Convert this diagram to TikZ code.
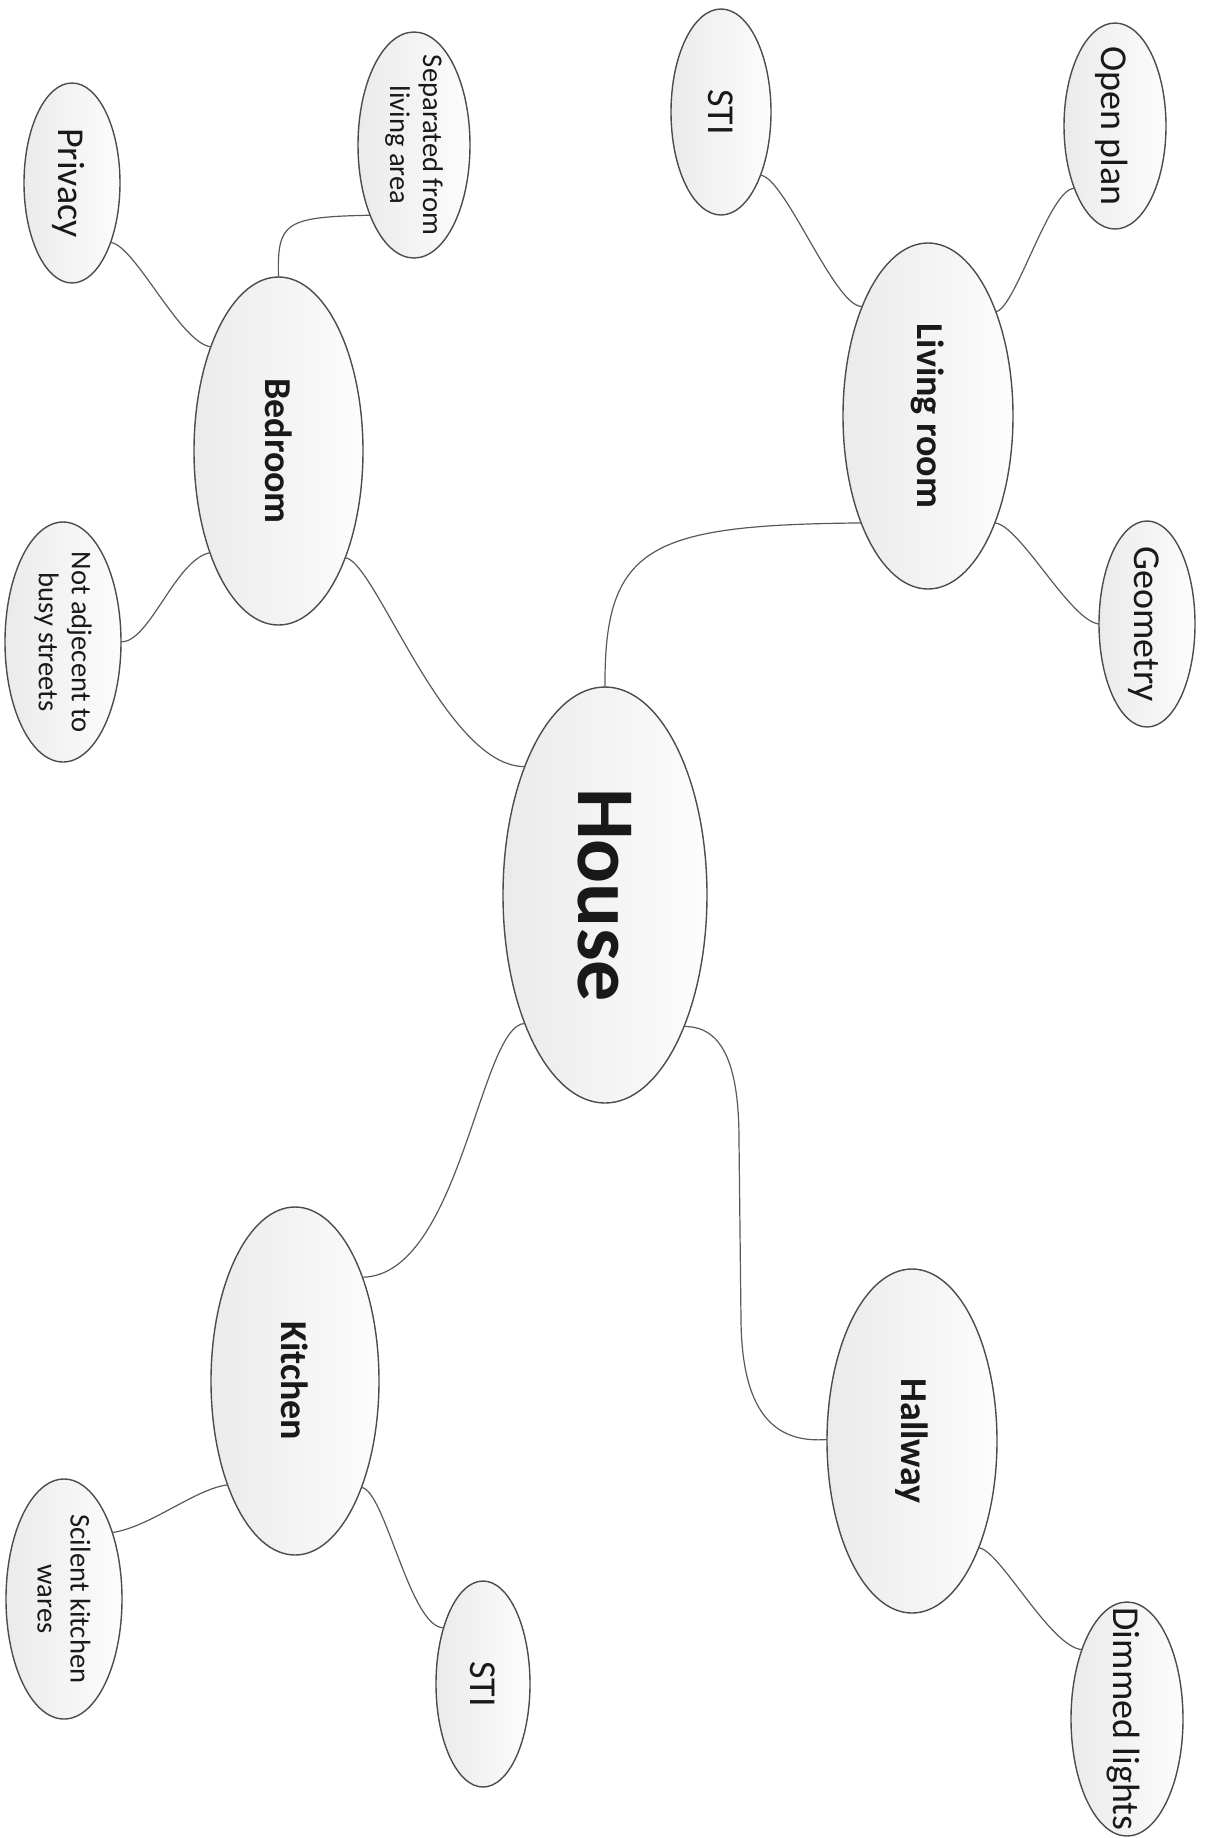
\documentclass[tikz,border=0pt]{standalone}
\usepackage{fontspec}
\setmainfont{Carlito}
\usetikzlibrary{shapes.geometric}
\begin{document}
\begin{tikzpicture}[x=0.5pt,y=-0.5pt,
  bub/.style={ellipse, draw=black!70, line width=0.7pt, left color=black!8, right color=black!1, inner sep=0pt, outer sep=0pt},
  conn/.style={draw=black!65, line width=0.6pt},
  txt/.style={rotate=-90, inner sep=0pt, text=black!90},
  bigtxt/.style={txt, font=\bfseries\fontsize{41}{49}\selectfont},
  roomtxt/.style={txt, font=\bfseries\fontsize{19}{23}\selectfont},
  leaftxt/.style={txt, font=\fontsize{19}{23}\selectfont, text depth=0pt},
  leaftwo/.style={txt, font=\fontsize{14.3}{16.5}\selectfont, align=center}
]
\useasboundingbox (0,0) rectangle (1208,1838);

% ellipses
\node[bub, minimum width=102pt, minimum height=208pt] (house) at (605,895) {};
\node[bub, minimum width=84.5pt, minimum height=174pt] (bedroom) at (278.5,451) {};
\node[bub, minimum width=85pt, minimum height=173pt] (living) at (928,416) {};
\node[bub, minimum width=84pt, minimum height=174pt] (kitchen) at (295,1381) {};
\node[bub, minimum width=85pt, minimum height=172pt] (hallway) at (912,1441) {};
\node[bub, minimum width=48pt, minimum height=100pt] (privacy) at (72,183) {};
\node[bub, minimum width=56pt, minimum height=113pt] (separated) at (414,145) {};
\node[bub, minimum width=58pt, minimum height=120pt] (notadj) at (63,642) {};
\node[bub, minimum width=50pt, minimum height=103pt] (stitop) at (721,112) {};
\node[bub, minimum width=51pt, minimum height=103pt] (open) at (1115,126) {};
\node[bub, minimum width=48pt, minimum height=103pt] (geometry) at (1147,624) {};
\node[bub, minimum width=58pt, minimum height=120pt] (scilent) at (64,1599) {};
\node[bub, minimum width=47pt, minimum height=103pt] (stibot) at (483,1684) {};
\node[bub, minimum width=56pt, minimum height=117pt] (dimmed) at (1127,1719) {};

% texts
\node[bigtxt] (houseT) at (house) {House};
\node[roomtxt] (bedroomT) at (bedroom) {Bedroom};
\node[roomtxt] (livingT) at (living) {Living room};
\node[roomtxt] (kitchenT) at (kitchen) {Kitchen};
\node[roomtxt] (hallwayT) at (hallway) {Hallway};
\node[leaftxt] (privacyT) at (privacy) {Privacy};
\node[leaftwo] (separatedT) at (separated) {Separated from\\living area};
\node[leaftwo] (notadjT) at (notadj) {Not adjecent to\\busy streets};
\node[leaftxt] (stitopT) at (stitop) {STI};
\node[leaftxt] (openT) at (open) {Open plan};
\node[leaftxt] (geometryT) at (geometry) {Geometry};
\node[leaftwo] (scilentT) at (scilent) {Scilent kitchen\\wares};
\node[leaftxt] (stibotT) at (stibot) {STI};
\node[leaftxt] (dimmedT) at (dimmed) {Dimmed lights};

% connectors
\draw[conn] (house.90) .. controls (604,545) and (650,525) .. (living.238);
\draw[conn] (bedroom.302.1) .. controls (375,560) and (445,767) .. (house.122.6);
\draw[conn] (house.238.4) .. controls (480,1025) and (460,1276) .. (kitchen.57.1);
\draw[conn] (house.301.4) .. controls (725,1026) and (739,1070) .. (739,1140)
   -- (741,1320) .. controls (742,1420) and (780,1443) .. (hallway.179);
\draw[conn] (privacy.303.5) .. controls (135,245) and (180,343) .. (bedroom.123.5);
\draw[conn] (bedroom.90) .. controls (277,222) and (285,217) .. (separated.238.6);
\draw[conn] (notadj.0) .. controls (150,642) and (175,560) .. (bedroom.236.7);
\draw[conn] (stitop.302) .. controls (785,177) and (835,308) .. (living.121.8);
\draw[conn] (living.57) .. controls (1015,310) and (1050,187) .. (open.237.4);
\draw[conn] (living.302.3) .. controls (1020,525) and (1070,621) .. (geometry.180);
\draw[conn] (kitchen.237.4) .. controls (195,1489) and (150,1527) .. (scilent.54.7);
\draw[conn] (kitchen.302.3) .. controls (385,1490) and (410,1628) .. (stibot.125.5);
\draw[conn] (hallway.302) .. controls (1000,1550) and (1050,1647) .. (dimmed.123.1);
\end{tikzpicture}
\end{document}
